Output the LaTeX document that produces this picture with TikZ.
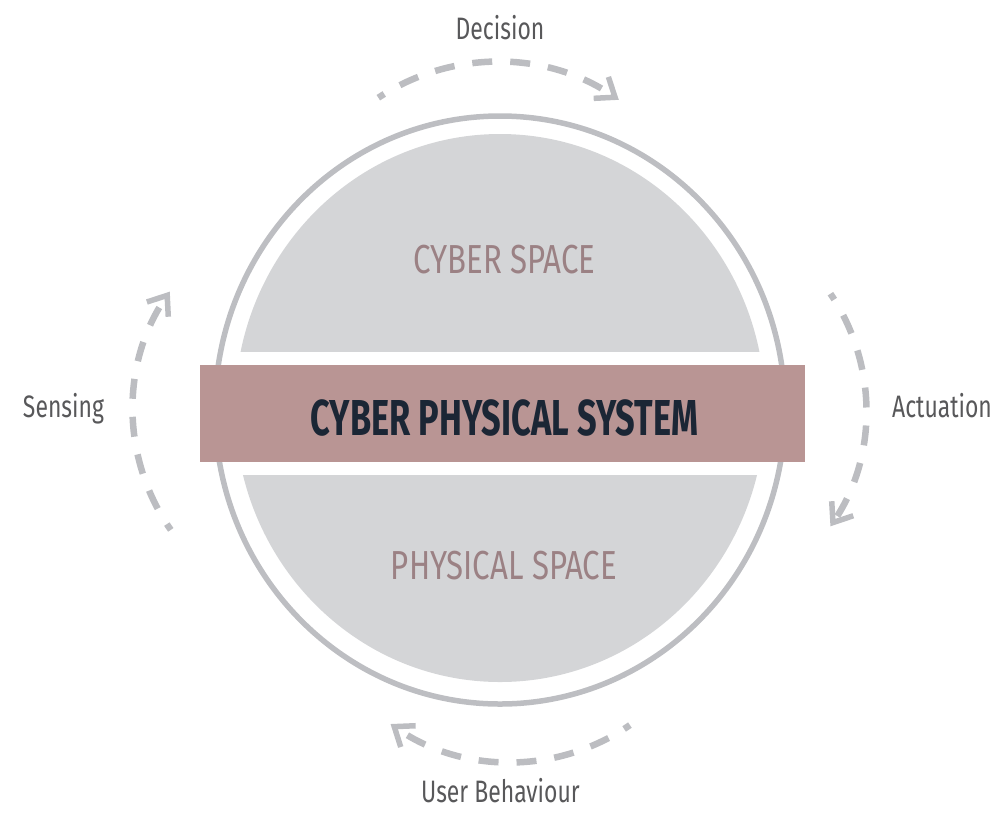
\documentclass[tikz,border=0pt]{standalone}
\usepackage{fontspec}
\setmainfont{Fira Sans}
\newfontfamily\labelfont{Fira Sans}[FakeStretch=0.74]
\newfontfamily\spacefont{Fira Sans}[FakeStretch=0.77]
\newfontfamily\titlefont{Fira Sans}[FakeStretch=0.68]
\usetikzlibrary{arrows.meta}

\definecolor{ringgray}{HTML}{BDBEC2}
\definecolor{discgray}{HTML}{D4D5D7}
\definecolor{bandrose}{HTML}{B99594}
\definecolor{spacetext}{HTML}{9B8184}
\definecolor{titletext}{HTML}{1B2635}
\definecolor{labeltext}{HTML}{58585A}
\definecolor{loopgray}{HTML}{BCBDC1}

\tikzset{
  cyclearrow/.style={draw=loopgray, line width=6.5pt,
    dash pattern=on 20pt off 18pt, dash phase=13pt,
    -{Straight Barb[length=17pt,width=26pt,line width=5.5pt]}},
  looplabel/.style={anchor=base, inner sep=0pt, text=labeltext,
    font=\labelfont\fontsize{31}{31}\selectfont},
  spacelabel/.style={anchor=base, inner sep=0pt, text=spacetext,
    font=\spacefont\fontsize{40.5}{40.5}\selectfont},
  titlelabel/.style={anchor=base, inner sep=0pt, text=titletext,
    font=\titlefont\bfseries\fontsize{50.5}{50.5}\selectfont},
}

\begin{document}
\begin{tikzpicture}[x=1pt, y=-1pt]
  \useasboundingbox (0,0) rectangle (1003,815);

  % outer ring
  \draw[ringgray, line width=5.5pt] (500,410) ellipse [x radius=285, y radius=294];

  % the two grey halves of the inner disc
  \begin{scope}
    \clip (500,408) ellipse [x radius=265, y radius=274];
    \fill[discgray] (200,100) rectangle (800,352);
    \fill[discgray] (200,475) rectangle (800,720);
  \end{scope}

  % central band
  \node[fill=bandrose, minimum width=605pt, minimum height=97pt,
        inner sep=0pt, anchor=north west] (band) at (200,365) {};

  \node[spacelabel] (cyber) at (504.5,273) {CYBER SPACE};
  \node[spacelabel] (physical) at (504,579) {PHYSICAL SPACE};
  \node[titlelabel] (cps) at (504.5,435) {CYBER PHYSICAL SYSTEM};

  % loop labels
  \node[looplabel] (decision) at (500,39) {Decision};
  \node[looplabel] (sensing) at (63.5,417) {Sensing};
  \node[looplabel] (actuation) at (942,417) {Actuation};
  \node[looplabel] (behaviour) at (500.5,802) {User Behaviour};

  % dashed cycle arrows
  \coordinate (dec-c) at (497,277);
  \coordinate (act-c) at (658,410);
  \coordinate (beh-c) at (511,552);
  \coordinate (sen-c) at (342,410);

  \draw[cyclearrow] ([shift={(-123.5:215)}]dec-c) arc[start angle=-123.5, end angle=-55.5, radius=215];
  \draw[cyclearrow] ([shift={(-34:208)}]act-c) arc[start angle=-34, end angle=34, radius=208];
  \draw[cyclearrow] ([shift={(55.5:210)}]beh-c) arc[start angle=55.5, end angle=125, radius=210];
  \draw[cyclearrow] ([shift={(145:209)}]sen-c) arc[start angle=145, end angle=214.5, radius=209];
\end{tikzpicture}
\end{document}
